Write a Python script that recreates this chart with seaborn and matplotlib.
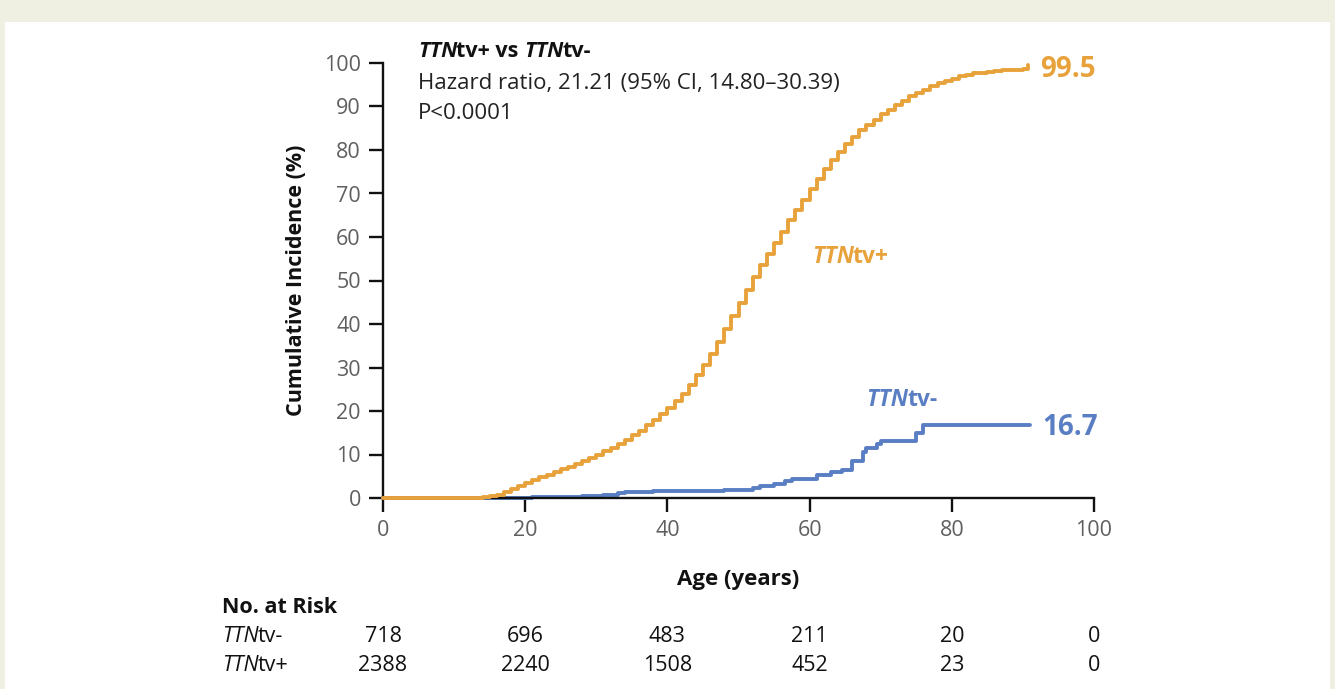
import matplotlib
matplotlib.use("Agg")
import matplotlib.pyplot as plt
import matplotlib.transforms as mtransforms
from matplotlib.patches import Rectangle
import seaborn as sns
import pandas as pd

# ---------------- data ----------------
pos_age = [0, 13, 14, 15, 16, 17, 18, 19, 20, 21, 22, 23, 24, 25, 26, 27, 28, 29, 30,
           31, 32, 33, 34, 35, 36, 37, 38, 39, 40, 41, 42, 43, 44, 45, 46, 47, 48, 49, 50,
           51, 52, 53, 54, 55, 56, 57, 58, 59, 60, 61, 62, 63, 64, 65, 66, 67, 68, 69, 70,
           71, 72, 73, 74, 75, 76, 77, 78, 79, 80, 81, 82, 83, 84, 85, 86, 87, 88, 89, 90, 90.7]
pos_inc = [0, 0.1, 0.2, 0.4, 0.8, 1.4, 2.1, 2.8, 3.5, 4.2, 4.8, 5.4, 6.0, 6.6, 7.2, 7.9, 8.6, 9.3, 10.0,
           10.8, 11.6, 12.5, 13.4, 14.4, 15.5, 16.7, 18.0, 19.4, 20.8, 22.3, 24.0, 26.0, 28.2, 30.6, 33.2, 35.9, 38.8, 41.8, 44.8,
           47.8, 50.8, 53.5, 56.0, 58.6, 61.2, 63.8, 66.2, 68.6, 71.0, 73.4, 75.6, 77.7, 79.6, 81.4, 83.0, 84.5, 85.8, 87.0, 88.2,
           89.3, 90.3, 91.3, 92.3, 93.1, 93.9, 94.6, 95.3, 95.9, 96.4, 96.9, 97.3, 97.6, 97.8, 98.0, 98.2, 98.3, 98.4, 98.5, 98.6, 99.5]

neg_age = [0, 21, 25, 28, 31, 33, 34, 38, 41, 45, 48, 52, 53, 55, 56.5, 57.5, 61, 63, 64.5,
           66, 67.5, 68, 69.5, 70, 75, 76, 91]
neg_inc = [0, 0.2, 0.3, 0.5, 0.8, 1.1, 1.4, 1.5, 1.6, 1.7, 1.9, 2.2, 2.8, 3.3, 4.0, 4.4, 5.3, 6.0, 6.4,
           8.5, 10.5, 11.5, 12.5, 13.0, 15.0, 16.7, 16.7]

x_ticks = [0, 20, 40, 60, 80, 100]
y_ticks = [0, 10, 20, 30, 40, 50, 60, 70, 80, 90, 100]
risk_neg = [718, 696, 483, 211, 20, 0]
risk_pos = [2388, 2240, 1508, 452, 23, 0]
final_pos = "99.5"
final_neg = "16.7"

ORANGE = "#E8A23B"
BLUE = "#5A7EC3"
GREY = "#5f5f5f"
CREAM = "#EFF0E2"

sns.set_theme(style="white")
plt.rcParams["font.family"] = ["Open Sans", "DejaVu Sans"]

fig = plt.figure(figsize=(13.35, 6.89), dpi=100, facecolor=CREAM)
W, H = 1335, 689
fig.patches.append(Rectangle((5 / W, 0), (1330 - 5) / W, (H - 22) / H,
                             transform=fig.transFigure, facecolor="white",
                             edgecolor="none", zorder=-10))

ax = fig.add_axes([383 / W, 1 - 498 / H, (1094 - 383) / W, (498 - 63) / H])
ax.set_facecolor("none")

df_pos = pd.DataFrame({"age": pos_age, "inc": pos_inc})
df_neg = pd.DataFrame({"age": neg_age, "inc": neg_inc})
sns.lineplot(data=df_pos, x="age", y="inc", ax=ax, color=ORANGE, lw=2.8,
             drawstyle="steps-post", estimator=None, sort=False, clip_on=False, zorder=3)
sns.lineplot(data=df_neg, x="age", y="inc", ax=ax, color=BLUE, lw=2.8,
             drawstyle="steps-post", estimator=None, sort=False, clip_on=False, zorder=2)

ax.set_xlim(0, 100)
ax.set_ylim(0, 100)
ax.set_xticks(x_ticks)
ax.set_yticks(y_ticks)
ax.set_xticklabels([str(v) for v in x_ticks])
ax.set_yticklabels([str(v) for v in y_ticks])
for s in ["top", "right"]:
    ax.spines[s].set_visible(False)
for s in ["left", "bottom"]:
    ax.spines[s].set_color("#111111")
    ax.spines[s].set_linewidth(1.7)
ax.tick_params(axis="both", which="major", direction="out", length=10, width=1.7,
               color="#111111", labelcolor=GREY, labelsize=15.5, pad=6,
               bottom=True, left=True)

ax.set_xlabel("Age (years)", fontsize=16, fontweight="bold", color="#111111", labelpad=20)
ax.set_ylabel("Cumulative Incidence (%)", fontsize=15.5, fontweight="bold", color="#111111", labelpad=12)


def rich2(parts, x, y, size, color, gap=-1.0):
    renderer = fig.canvas.get_renderer()
    cur_x = x * W
    for i, (txt, wgt, sty) in enumerate(parts):
        t = fig.text(cur_x / W, y, txt, fontsize=size, color=color,
                     fontweight=wgt, fontstyle=sty, va="baseline", ha="left")
        bb = t.get_window_extent(renderer=renderer)
        cur_x = bb.x1 + (gap if sty == "italic" else 0)


def px(xp, yp):
    return xp / W, 1 - yp / H

# Header annotation
x0, y0 = px(418, 57)
rich2([("TTN", "bold", "italic"), ("tv+ vs ", "bold", "normal"),
       ("TTN", "bold", "italic"), ("tv-", "bold", "normal")],
      x0, y0, 15.5, "#111111")
x1, y1 = px(418, 89)
fig.text(x1, y1, "Hazard ratio, 21.21 (95% CI, 14.80\u201330.39)", fontsize=16,
         color="#222222", va="baseline", ha="left")
x2, y2 = px(418, 119)
fig.text(x2, y2, "P<0.0001", fontsize=16, color="#222222", va="baseline", ha="left")

# Curve labels
xa, ya = px(812, 263)
rich2([("TTN", "bold", "italic"), ("tv+", "bold", "normal")], xa, ya, 16.5, ORANGE)
xb, yb = px(866, 406)
rich2([("TTN", "bold", "italic"), ("tv-", "bold", "normal")], xb, yb, 16.5, BLUE)

xc, yc = px(1040, 77)
fig.text(xc, yc, final_pos, fontsize=20, fontweight="bold", color=ORANGE, va="baseline")
xd, yd = px(1042, 435)
fig.text(xd, yd, final_neg, fontsize=20, fontweight="bold", color=BLUE, va="baseline")

# Risk table
blend = mtransforms.blended_transform_factory(ax.transData, fig.transFigure)
xr, yr = px(222, 613)
fig.text(xr, yr, "No. at Risk", fontsize=15.5, fontweight="bold", color="#111111", va="baseline")
row_y = [642, 671]
for ry, lab, vals in [(row_y[0], "tv-", risk_neg), (row_y[1], "tv+", risk_pos)]:
    lx, ly = px(222, ry)
    rich2([("TTN", "normal", "italic"), (lab, "normal", "normal")], lx, ly, 15.5, "#111111")
    for xv, v in zip(x_ticks, vals):
        fig.text(xv, 1 - ry / H, str(v), transform=blend, fontsize=15.5, color="#111111",
                 ha="center", va="baseline")

fig.savefig("out.png", dpi=100, facecolor=CREAM)
